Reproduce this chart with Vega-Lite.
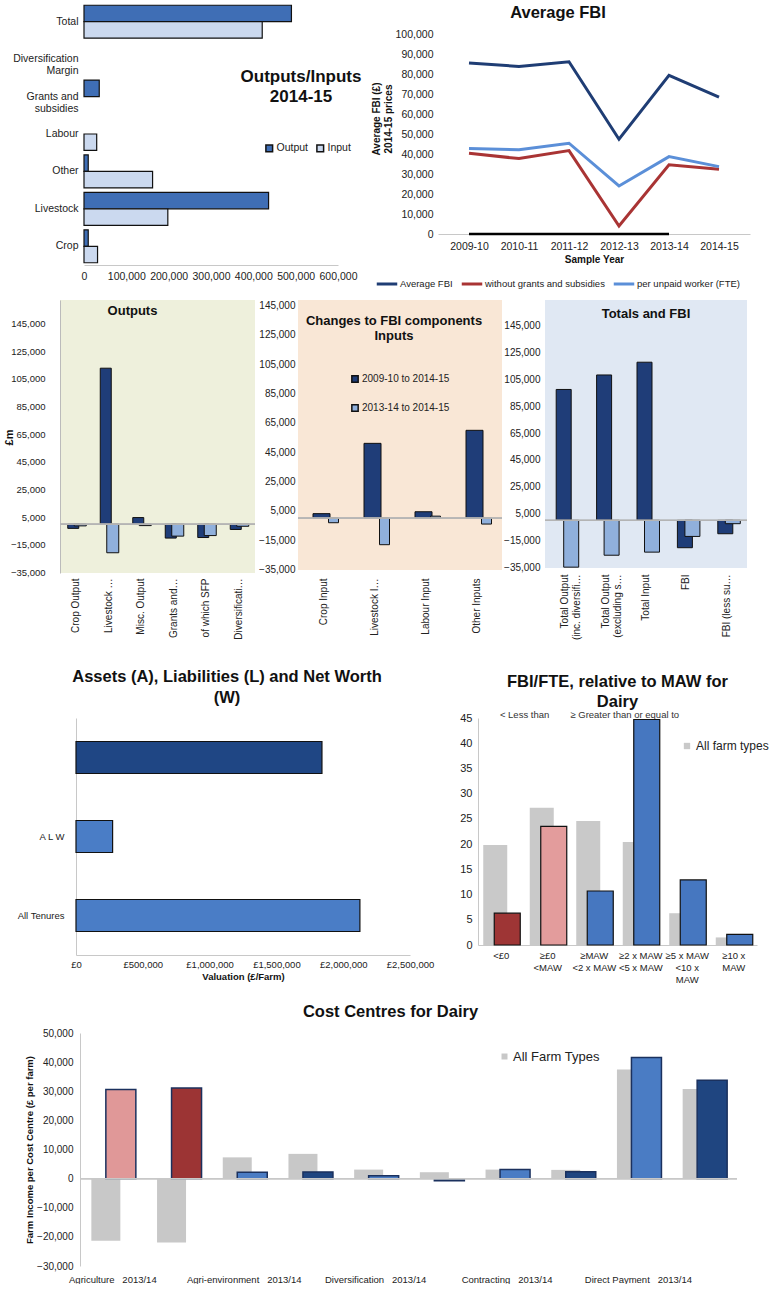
{
"$schema": "https://vega.github.io/schema/vega-lite/v6.json",
"padding": {"left": 0, "top": 3, "right": 0, "bottom": 0},
"background": "#ffffff",
"config": {
  "font": "Liberation Sans",
  "view": {"stroke": null},
  "axis": {"labelColor": "#222222", "titleColor": "#111111", "titleFontWeight": "bold", "grid": false, "ticks": false, "domainColor": "#c8c8c8", "labelFont": "Liberation Sans", "titleFont": "Liberation Sans", "labelOverlap": false, "labelFlush": false},
  "title": {"fontWeight": "bold", "color": "#111111", "anchor": "middle", "frame": "group", "font": "Liberation Sans"},
  "legend": {"labelColor": "#222222", "labelFont": "Liberation Sans"}
},
"datasets": {
  "outin": [
    {"item": "Total", "flow": "Output", "value": 490000},
    {"item": "Total", "flow": "Input", "value": 421000},
    {"item": "Grants and subsidies", "flow": "Output", "value": 36000},
    {"item": "Labour", "flow": "Input", "value": 30000},
    {"item": "Other", "flow": "Output", "value": 10000},
    {"item": "Other", "flow": "Input", "value": 162000},
    {"item": "Livestock", "flow": "Output", "value": 436000},
    {"item": "Livestock", "flow": "Input", "value": 198000},
    {"item": "Crop", "flow": "Output", "value": 10000},
    {"item": "Crop", "flow": "Input", "value": 32000}
  ],
  "fbi": [
    {"year": "2009-10", "series": "Average FBI", "value": 85500},
    {"year": "2010-11", "series": "Average FBI", "value": 83800},
    {"year": "2011-12", "series": "Average FBI", "value": 86100},
    {"year": "2012-13", "series": "Average FBI", "value": 47400},
    {"year": "2013-14", "series": "Average FBI", "value": 79300},
    {"year": "2014-15", "series": "Average FBI", "value": 68400},
    {"year": "2009-10", "series": "without grants and subsidies", "value": 40400},
    {"year": "2010-11", "series": "without grants and subsidies", "value": 37700},
    {"year": "2011-12", "series": "without grants and subsidies", "value": 41700},
    {"year": "2012-13", "series": "without grants and subsidies", "value": 4000},
    {"year": "2013-14", "series": "without grants and subsidies", "value": 34600},
    {"year": "2014-15", "series": "without grants and subsidies", "value": 32400},
    {"year": "2009-10", "series": "per unpaid worker (FTE)", "value": 42700},
    {"year": "2010-11", "series": "per unpaid worker (FTE)", "value": 42100},
    {"year": "2011-12", "series": "per unpaid worker (FTE)", "value": 45400},
    {"year": "2012-13", "series": "per unpaid worker (FTE)", "value": 24000},
    {"year": "2013-14", "series": "per unpaid worker (FTE)", "value": 38700},
    {"year": "2014-15", "series": "per unpaid worker (FTE)", "value": 33700}
  ],
  "fbi_zero": [
    {"year": "2009-10", "value": 0},
    {"year": "2010-11", "value": 0},
    {"year": "2011-12", "value": 0},
    {"year": "2012-13", "value": 0},
    {"year": "2013-14", "value": 0}
  ],
  "chg_out": [
    {"item": "Crop Output", "long": -3000, "short": -1200},
    {"item": "Livestock Output", "long": 112600, "short": -20600},
    {"item": "Misc. Output", "long": 4800, "short": -1000},
    {"item": "Grants and subsidies", "long": -10000, "short": -8600},
    {"item": "of which SFP", "long": -9600, "short": -8200},
    {"item": "Diversification Margin", "long": -3800, "short": -1500}
  ],
  "chg_in": [
    {"item": "Crop Input", "long": 3000, "short": -3200},
    {"item": "Livestock Input", "long": 51000, "short": -18200},
    {"item": "Labour Input", "long": 4300, "short": 1300},
    {"item": "Other Inputs", "long": 59900, "short": -4100}
  ],
  "chg_tot": [
    {"item": "Total Output (inc. diversification)", "long": 97500, "short": -34900},
    {"item": "Total Output (excluding subsidies)", "long": 108300, "short": -26000},
    {"item": "Total Input", "long": 117800, "short": -23700},
    {"item": "FBI", "long": -20400, "short": -12000},
    {"item": "FBI (less subsidies)", "long": -10000, "short": -2500}
  ],
  "assets": [
    {"group": " ", "value": 1841000},
    {"group": "A L W", "value": 274000},
    {"group": "All Tenures", "value": 2125000}
  ],
  "maw": [
    {"band": "<£0", "all_types": 19.8, "dairy": 6.3},
    {"band": "≥£0 <MAW", "all_types": 27.2, "dairy": 23.5},
    {"band": "≥MAW <2 x MAW", "all_types": 24.6, "dairy": 10.7},
    {"band": "≥2 x MAW <5 x MAW", "all_types": 20.4, "dairy": 44.7},
    {"band": "≥5 x MAW <10 x MAW", "all_types": 6.3, "dairy": 12.9},
    {"band": "≥10 x MAW", "all_types": 1.5, "dairy": 2.1}
  ],
  "cost": [
    {"centre": "Agriculture 2013/14", "all_types": -21300, "dairy": 30600},
    {"centre": "Agriculture 2014/15", "all_types": -21900, "dairy": 31100},
    {"centre": "Agri-environment 2013/14", "all_types": 7300, "dairy": 2200},
    {"centre": "Agri-environment 2014/15", "all_types": 8500, "dairy": 2300},
    {"centre": "Diversification 2013/14", "all_types": 3100, "dairy": 1000},
    {"centre": "Diversification 2014/15", "all_types": 2200, "dairy": -700},
    {"centre": "Contracting 2013/14", "all_types": 3100, "dairy": 3100},
    {"centre": "Contracting 2014/15", "all_types": 3000, "dairy": 2400},
    {"centre": "Direct Payment 2013/14", "all_types": 37500, "dairy": 41600},
    {"centre": "Direct Payment 2014/15", "all_types": 30800, "dairy": 33800}
  ]
},
"spacing": 0,
"resolve": {"scale": {"color": "independent", "x": "independent", "y": "independent"}, "legend": {"color": "independent"}},
"vconcat": [
 {
  "bounds": "flush",
  "spacing": 0,
  "resolve": {"scale": {"color": "independent", "x": "independent", "y": "independent"}, "legend": {"color": "independent"}},
  "hconcat": [
  {"width": 84, "height": 297, "data": {"values": []}, "mark": "point", "encoding": {}},
  {
    "width": 254, "height": 262,
    "data": {"name": "outin"},
    "title": {"text": ["Outputs/Inputs", "2014-15"], "fontSize": 17, "lineHeight": 20, "dx": 90, "dy": 107},
    "mark": {"type": "bar", "stroke": "#111111", "strokeWidth": 1.2},
    "encoding": {
      "y": {"field": "item", "type": "nominal", "scale": {"domain": ["Total", "Diversification Margin", "Grants and subsidies", "Labour", "Other", "Livestock", "Crop"], "paddingInner": 0.12, "paddingOuter": 0.06}, "axis": {"title": null, "domain": false, "labelPadding": 6, "labelFontSize": 10.5, "labelLineHeight": 12, "labelExpr": "datum.value == 'Diversification Margin' ? ['Diversification','Margin'] : datum.value == 'Grants and subsidies' ? ['Grants and','subsidies'] : datum.value"}},
      "yOffset": {"field": "flow", "type": "nominal", "scale": {"domain": ["Output", "Input"]}},
      "x": {"field": "value", "type": "quantitative", "scale": {"domain": [0, 600000], "nice": false}, "axis": {"title": null, "values": [0, 100000, 200000, 300000, 400000, 500000, 600000], "format": ",.0f", "labelFontSize": 10.5, "labelPadding": 6, "labelOverlap": false, "labelFlush": false}},
      "color": {"field": "flow", "type": "nominal", "scale": {"domain": ["Output", "Input"], "range": ["#3f6eb5", "#cbd9ef"]}, "legend": {"title": null, "orient": "none", "legendX": 180, "legendY": 140, "direction": "horizontal", "symbolType": "square", "symbolSize": 45, "symbolStrokeColor": "#111111", "symbolStrokeWidth": 1.5, "labelFontSize": 10.5, "columnPadding": 4, "labelOffset": 2}}
    }
  },
  {"width": 100, "height": 1, "data": {"values": []}, "mark": "point", "encoding": {}},
  {
    "width": 312, "height": 231,
    "title": {"text": "Average FBI", "fontSize": 16.5, "dx": -36, "dy": 22},
    "layer": [
      {
        "data": {"name": "fbi_zero"},
        "mark": {"type": "line", "color": "#000000", "strokeWidth": 2.5},
        "encoding": {
          "x": {"field": "year", "type": "ordinal", "scale": {"type": "point", "padding": 0.62}, "axis": {"title": "Sample Year", "titleFontSize": 10, "titlePadding": 3, "labelAngle": 0, "labelFontSize": 10.5, "labelPadding": 7}},
          "y": {"field": "value", "type": "quantitative", "scale": {"domain": [0, 115500], "nice": false}, "axis": {"title": ["Average FBI (£)", "2014-15 prices"], "titleFontSize": 10, "titlePadding": 2, "values": [0, 10000, 20000, 30000, 40000, 50000, 60000, 70000, 80000, 90000, 100000], "format": ",.0f", "domain": false, "labelFontSize": 10.5, "labelPadding": 5, "labelOverlap": false}}
        }
      },
      {
        "data": {"name": "fbi"},
        "mark": {"type": "line", "strokeWidth": 3},
        "encoding": {
          "x": {"field": "year", "type": "ordinal", "scale": {"type": "point", "padding": 0.62}, "axis": {"title": "Sample Year", "titleFontSize": 10, "titlePadding": 3, "labelAngle": 0, "labelFontSize": 10.5, "labelPadding": 7}},
          "y": {"field": "value", "type": "quantitative", "scale": {"domain": [0, 115500], "nice": false}, "axis": {"title": ["Average FBI (£)", "2014-15 prices"], "titleFontSize": 10, "titlePadding": 2, "values": [0, 10000, 20000, 30000, 40000, 50000, 60000, 70000, 80000, 90000, 100000], "format": ",.0f", "domain": false, "labelFontSize": 10.5, "labelPadding": 5, "labelOverlap": false}},
          "color": {"field": "series", "type": "nominal", "scale": {"domain": ["Average FBI", "without grants and subsidies", "per unpaid worker (FTE)"], "range": ["#1f3d74", "#a93434", "#5b8fd8"]}, "legend": {"title": null, "orient": "none", "legendX": -63, "legendY": 269, "direction": "horizontal", "symbolType": "stroke", "symbolSize": 420, "symbolStrokeWidth": 3, "labelFontSize": 9.5, "columnPadding": 2, "labelOffset": 1}}
        }
      }
    ]
  }
  ]
 },
 {
  "bounds": "flush",
  "spacing": 0,
  "resolve": {"scale": {"color": "independent", "x": "independent", "y": "independent"}, "legend": {"color": "independent"}},
  "hconcat": [
  {"width": 60, "height": 368, "data": {"values": []}, "mark": "point", "encoding": {}},
  {
    "width": 195, "height": 273,
    "view": {"fill": "#eef0dc", "stroke": null},
    "data": {"name": "chg_out"},
    "title": {"text": "Outputs", "fontSize": 13, "dx": -25, "dy": 22},
    "layer": [
      {
        "mark": {"type": "bar", "width": 11, "xOffset": -3, "color": "#1f3d78", "stroke": "#111111", "strokeWidth": 1},
        "encoding": {
          "x": {"field": "item", "type": "nominal", "scale": {"domain": ["Crop Output", "Livestock Output", "Misc. Output", "Grants and subsidies", "of which SFP", "Diversification Margin"], "paddingInner": 0, "paddingOuter": 0}, "axis": {"title": null, "labelAngle": -90, "labelFontSize": 10, "labelLimit": 62, "domain": false, "labelPadding": 5}},
          "y": {"field": "long", "type": "quantitative", "scale": {"domain": [-35208, 161816], "nice": false, "zero": false}, "axis": {"title": "£m", "titleX": -46, "titleY": 137, "titleAngle": -90, "titleFontSize": 11, "values": [-35000, -15000, 5000, 25000, 45000, 65000, 85000, 105000, 125000, 145000], "format": ",.0f", "labelFontSize": 9.5, "labelPadding": 15, "domainColor": "#bbbbbb", "labelOverlap": false}}
        }
      },
      {
        "mark": {"type": "bar", "width": 12, "xOffset": 4, "color": "#90b0dc", "stroke": "#111111", "strokeWidth": 1},
        "encoding": {
          "x": {"field": "item", "type": "nominal", "scale": {"domain": ["Crop Output", "Livestock Output", "Misc. Output", "Grants and subsidies", "of which SFP", "Diversification Margin"], "paddingInner": 0, "paddingOuter": 0}, "axis": {"title": null, "labelAngle": -90, "labelFontSize": 10, "labelLimit": 62, "domain": false, "labelPadding": 5}},
          "y": {"field": "short", "type": "quantitative", "scale": {"domain": [-35208, 161816], "nice": false, "zero": false}, "axis": {"title": "£m", "titleX": -46, "titleY": 137, "titleAngle": -90, "titleFontSize": 11, "values": [-35000, -15000, 5000, 25000, 45000, 65000, 85000, 105000, 125000, 145000], "format": ",.0f", "labelFontSize": 9.5, "labelPadding": 15, "domainColor": "#bbbbbb", "labelOverlap": false}}
        }
      },
      {"mark": {"type": "rule", "color": "#b5b5b5", "strokeWidth": 1}, "encoding": {"y": {"datum": 0, "type": "quantitative", "scale": {"domain": [-35208, 161816], "nice": false, "zero": false}, "axis": {"title": "£m", "titleX": -46, "titleY": 137, "titleAngle": -90, "titleFontSize": 11, "values": [-35000, -15000, 5000, 25000, 45000, 65000, 85000, 105000, 125000, 145000], "format": ",.0f", "labelFontSize": 9.5, "labelPadding": 15, "domainColor": "#bbbbbb", "labelOverlap": false}}}}
    ]
  },
  {"width": 43, "height": 1, "data": {"values": []}, "mark": "point", "encoding": {}},
  {
    "width": 204, "height": 270,
    "view": {"fill": "#f9e7d6", "stroke": null},
    "data": {"name": "chg_in"},
    "title": {"text": ["Changes to FBI components", "Inputs"], "fontSize": 13, "lineHeight": 15, "dx": -6, "dy": 47},
    "layer": [
      {
        "mark": {"type": "bar", "width": 17, "xOffset": -2, "stroke": "#111111", "strokeWidth": 1},
        "encoding": {
          "x": {"field": "item", "type": "nominal", "scale": {"domain": ["Crop Input", "Livestock Input", "Labour Input", "Other Inputs"], "paddingInner": 0, "paddingOuter": 0}, "axis": {"title": null, "labelAngle": -90, "labelFontSize": 10, "labelLimit": 62, "domain": false, "labelPadding": 8}},
          "y": {"field": "long", "type": "quantitative", "scale": {"domain": [-35478, 148893], "nice": false, "zero": false}, "axis": {"title": null, "values": [-35000, -15000, 5000, 25000, 45000, 65000, 85000, 105000, 125000, 145000], "format": ",.0f", "labelFontSize": 10, "labelPadding": 3, "domain": false, "labelOverlap": false}},
          "color": {"datum": "2009-10 to 2014-15", "scale": {"domain": ["2009-10 to 2014-15", "2013-14 to 2014-15"], "range": ["#1f3d78", "#90b0dc"]}, "legend": {"title": null, "orient": "none", "legendX": 52, "legendY": 74, "direction": "vertical", "symbolType": "square", "symbolSize": 40, "symbolStrokeColor": "#111111", "symbolStrokeWidth": 1.5, "labelFontSize": 10, "rowPadding": 15, "labelOffset": 2}}
        }
      },
      {
        "mark": {"type": "bar", "width": 10, "xOffset": 10, "stroke": "#111111", "strokeWidth": 1},
        "encoding": {
          "x": {"field": "item", "type": "nominal", "scale": {"domain": ["Crop Input", "Livestock Input", "Labour Input", "Other Inputs"], "paddingInner": 0, "paddingOuter": 0}, "axis": {"title": null, "labelAngle": -90, "labelFontSize": 10, "labelLimit": 62, "domain": false, "labelPadding": 8}},
          "y": {"field": "short", "type": "quantitative", "scale": {"domain": [-35478, 148893], "nice": false, "zero": false}, "axis": {"title": null, "values": [-35000, -15000, 5000, 25000, 45000, 65000, 85000, 105000, 125000, 145000], "format": ",.0f", "labelFontSize": 10, "labelPadding": 3, "domain": false, "labelOverlap": false}},
          "color": {"datum": "2013-14 to 2014-15", "scale": {"domain": ["2009-10 to 2014-15", "2013-14 to 2014-15"], "range": ["#1f3d78", "#90b0dc"]}, "legend": {"title": null, "orient": "none", "legendX": 52, "legendY": 74, "direction": "vertical", "symbolType": "square", "symbolSize": 40, "symbolStrokeColor": "#111111", "symbolStrokeWidth": 1.5, "labelFontSize": 10, "rowPadding": 15, "labelOffset": 2}}
        }
      },
      {"mark": {"type": "rule", "color": "#b5b5b5", "strokeWidth": 1}, "encoding": {"y": {"datum": 0, "type": "quantitative", "scale": {"domain": [-35478, 148893], "nice": false, "zero": false}, "axis": {"title": null, "values": [-35000, -15000, 5000, 25000, 45000, 65000, 85000, 105000, 125000, 145000], "format": ",.0f", "labelFontSize": 10, "labelPadding": 3, "domain": false, "labelOverlap": false}}}}
    ]
  },
  {"width": 43, "height": 1, "data": {"values": []}, "mark": "point", "encoding": {}},
  {
    "width": 202, "height": 268,
    "view": {"fill": "#e0e8f3", "stroke": null},
    "data": {"name": "chg_tot"},
    "title": {"text": "Totals and FBI", "fontSize": 13, "dx": 0, "dy": 25},
    "layer": [
      {
        "mark": {"type": "bar", "width": 15, "xOffset": -1.5, "color": "#1f3d78", "stroke": "#111111", "strokeWidth": 1},
        "encoding": {
          "x": {"field": "item", "type": "nominal", "scale": {"domain": ["Total Output (inc. diversification)", "Total Output (excluding subsidies)", "Total Input", "FBI", "FBI (less subsidies)"], "paddingInner": 0, "paddingOuter": 0}, "axis": {"title": null, "labelAngle": -90, "labelFontSize": 10, "labelLimit": 66, "labelLineHeight": 12, "domain": false, "labelPadding": 6, "labelExpr": "datum.value == 'Total Output (inc. diversification)' ? ['Total Output','(inc. diversification)'] : datum.value == 'Total Output (excluding subsidies)' ? ['Total Output','(excluding subsidies)'] : datum.value"}},
          "y": {"field": "long", "type": "quantitative", "scale": {"domain": [-35521, 164147], "nice": false, "zero": false}, "axis": {"title": null, "values": [-35000, -15000, 5000, 25000, 45000, 65000, 85000, 105000, 125000, 145000], "format": ",.0f", "labelFontSize": 10, "labelPadding": 5, "domain": false, "labelOverlap": false}}
        }
      },
      {
        "mark": {"type": "bar", "width": 15, "xOffset": 6, "color": "#90b0dc", "stroke": "#111111", "strokeWidth": 1},
        "encoding": {
          "x": {"field": "item", "type": "nominal", "scale": {"domain": ["Total Output (inc. diversification)", "Total Output (excluding subsidies)", "Total Input", "FBI", "FBI (less subsidies)"], "paddingInner": 0, "paddingOuter": 0}, "axis": {"title": null, "labelAngle": -90, "labelFontSize": 10, "labelLimit": 66, "labelLineHeight": 12, "domain": false, "labelPadding": 6, "labelExpr": "datum.value == 'Total Output (inc. diversification)' ? ['Total Output','(inc. diversification)'] : datum.value == 'Total Output (excluding subsidies)' ? ['Total Output','(excluding subsidies)'] : datum.value"}},
          "y": {"field": "short", "type": "quantitative", "scale": {"domain": [-35521, 164147], "nice": false, "zero": false}, "axis": {"title": null, "values": [-35000, -15000, 5000, 25000, 45000, 65000, 85000, 105000, 125000, 145000], "format": ",.0f", "labelFontSize": 10, "labelPadding": 5, "domain": false, "labelOverlap": false}}
        }
      },
      {"mark": {"type": "rule", "color": "#b5b5b5", "strokeWidth": 1}, "encoding": {"y": {"datum": 0, "type": "quantitative", "scale": {"domain": [-35521, 164147], "nice": false, "zero": false}, "axis": {"title": null, "values": [-35000, -15000, 5000, 25000, 45000, 65000, 85000, 105000, 125000, 145000], "format": ",.0f", "labelFontSize": 10, "labelPadding": 5, "domain": false, "labelOverlap": false}}}}
    ]
  }
  ]
 },
 {
  "bounds": "flush",
  "spacing": 0,
  "resolve": {"scale": {"color": "independent", "x": "independent", "y": "independent"}, "legend": {"color": "independent"}},
  "hconcat": [
  {"width": 76, "height": 285, "data": {"values": []}, "mark": "point", "encoding": {}},
  {
    "width": 334, "height": 237,
    "data": {"name": "assets"},
    "title": {"text": ["Assets (A), Liabilities (L) and Net Worth", "(W)"], "fontSize": 16.5, "lineHeight": 21, "dx": -16, "offset": 12},
    "mark": {"type": "bar", "height": 32, "stroke": "#111111", "strokeWidth": 1.2},
    "encoding": {
      "y": {"field": "group", "type": "nominal", "scale": {"domain": [" ", "A L W", "All Tenures"], "paddingInner": 0, "paddingOuter": 0}, "axis": {"title": null, "labelFontSize": 9.5, "labelPadding": 12}},
      "x": {"field": "value", "type": "quantitative", "scale": {"domain": [0, 2500000], "nice": false}, "axis": {"title": "Valuation (£/Farm)", "titleFontSize": 9.5, "titlePadding": 3, "values": [0, 500000, 1000000, 1500000, 2000000, 2500000], "labelExpr": "'£' + format(datum.value, ',')", "labelFontSize": 9.5, "labelPadding": 4, "labelOverlap": false, "labelFlush": false}},
      "color": {"field": "group", "type": "nominal", "scale": {"domain": [" ", "A L W", "All Tenures"], "range": ["#1f4684", "#4a7dc6", "#4a7dc6"]}, "legend": null}
    }
  },
  {"width": 68, "height": 1, "data": {"values": []}, "mark": "point", "encoding": {}},
  {
    "width": 279, "height": 227,
    "data": {"name": "maw"},
    "title": {"text": ["FBI/FTE, relative to MAW for", "Dairy"], "fontSize": 16.5, "lineHeight": 20, "offset": -1},
    "layer": [
      {
        "mark": {"type": "bar", "width": 24, "xOffset": -6},
        "encoding": {
          "x": {"field": "band", "type": "nominal", "scale": {"domain": ["<£0", "≥£0 <MAW", "≥MAW <2 x MAW", "≥2 x MAW <5 x MAW", "≥5 x MAW <10 x MAW", "≥10 x MAW"], "paddingInner": 0, "paddingOuter": 0}, "axis": {"orient": "top", "labels": false, "domain": false, "title": "< Less than\u00a0\u00a0\u00a0\u00a0\u00a0\u00a0\u00a0\u00a0≥ Greater than or equal to", "titleFontWeight": "normal", "titleFontSize": 9.5, "titleColor": "#333333", "titleX": 111, "titleY": -1, "titleAlign": "center", "titleBaseline": "alphabetic"}},
          "y": {"field": "all_types", "type": "quantitative", "scale": {"domain": [0, 45], "nice": false}, "axis": {"title": null, "values": [0, 5, 10, 15, 20, 25, 30, 35, 40, 45], "labelFontSize": 11, "labelPadding": 6, "labelOverlap": false}},
          "color": {"datum": "All farm types", "scale": {"domain": ["All farm types"], "range": ["#c9c9c9"]}, "legend": {"title": null, "orient": "none", "legendX": 203, "legendY": 22, "symbolType": "square", "symbolSize": 40, "labelFontSize": 12, "labelOffset": 3}}
        }
      },
      {
        "mark": {"type": "bar", "width": 26, "xOffset": 6, "stroke": "#111111", "strokeWidth": 1.2},
        "encoding": {
          "x": {"field": "band", "type": "nominal", "scale": {"domain": ["<£0", "≥£0 <MAW", "≥MAW <2 x MAW", "≥2 x MAW <5 x MAW", "≥5 x MAW <10 x MAW", "≥10 x MAW"], "paddingInner": 0, "paddingOuter": 0}, "axis": {"orient": "bottom", "title": null, "labelAngle": 0, "labelFontSize": 9.5, "labelLineHeight": 12, "labelPadding": 5, "labelExpr": "datum.value == '≥£0 <MAW' ? ['≥£0','<MAW'] : datum.value == '≥MAW <2 x MAW' ? ['≥MAW','<2 x MAW'] : datum.value == '≥2 x MAW <5 x MAW' ? ['≥2 x MAW','<5 x MAW'] : datum.value == '≥5 x MAW <10 x MAW' ? ['≥5 x MAW','<10 x','MAW'] : datum.value == '≥10 x MAW' ? ['≥10 x','MAW'] : datum.value"}},
          "y": {"field": "dairy", "type": "quantitative", "scale": {"domain": [0, 45], "nice": false}, "axis": {"title": null, "values": [0, 5, 10, 15, 20, 25, 30, 35, 40, 45], "labelFontSize": 11, "labelPadding": 6, "labelOverlap": false}},
          "color": {"field": "band", "type": "nominal", "scale": {"domain": ["<£0", "≥£0 <MAW", "≥MAW <2 x MAW", "≥2 x MAW <5 x MAW", "≥5 x MAW <10 x MAW", "≥10 x MAW"], "range": ["#9e3535", "#e39c9c", "#4677c0", "#4677c0", "#4677c0", "#4677c0"]}, "legend": null}
        }
      }
    ],
    "resolve": {"scale": {"color": "independent"}, "axis": {"x": "independent"}, "legend": {"color": "independent"}}
  }
  ]
 },
 {
  "bounds": "flush",
  "spacing": 0,
  "resolve": {"scale": {"color": "independent", "x": "independent", "y": "independent"}, "legend": {"color": "independent"}},
  "hconcat": [
  {"width": 80, "height": 1, "data": {"values": []}, "mark": "point", "encoding": {}},
  {
    "width": 657, "height": 233,
    "data": {"name": "cost"},
    "title": {"text": "Cost Centres for Dairy", "fontSize": 16.5, "dx": -18, "offset": 8},
    "layer": [
      {
        "mark": {"type": "bar", "width": 29, "xOffset": -7},
        "encoding": {
          "x": {"field": "centre", "type": "nominal", "scale": {"domain": ["Agriculture 2013/14", "Agriculture 2014/15", "Agri-environment 2013/14", "Agri-environment 2014/15", "Diversification 2013/14", "Diversification 2014/15", "Contracting 2013/14", "Contracting 2014/15", "Direct Payment 2013/14", "Direct Payment 2014/15"], "paddingInner": 0, "paddingOuter": 0}, "axis": {"title": null, "labelAngle": 0, "domain": false, "labelFontSize": 9.5, "labelPadding": 8, "labelExpr": "indexof(datum.value, '2014/15') >= 0 ? '' : replace(datum.value, ' 2013/14', '\u00a0\u00a0 2013/14')"}},
          "y": {"field": "all_types", "type": "quantitative", "scale": {"domain": [-30000, 50000], "nice": false}, "axis": {"title": "Farm Income per Cost Centre (£ per farm)", "titleFontSize": 9.5, "titlePadding": 2, "values": [-30000, -20000, -10000, 0, 10000, 20000, 30000, 40000, 50000], "format": ",.0f", "labelFontSize": 10, "labelPadding": 7, "labelOverlap": false}},
          "color": {"datum": "All Farm Types", "scale": {"domain": ["All Farm Types"], "range": ["#c8c8c8"]}, "legend": {"title": null, "orient": "none", "legendX": 418, "legendY": 17, "symbolType": "square", "symbolSize": 36, "labelFontSize": 13, "labelOffset": 2}}
        }
      },
      {
        "mark": {"type": "bar", "width": 30, "xOffset": 8, "stroke": "#1b315e", "strokeWidth": 1.5},
        "encoding": {
          "x": {"field": "centre", "type": "nominal", "scale": {"domain": ["Agriculture 2013/14", "Agriculture 2014/15", "Agri-environment 2013/14", "Agri-environment 2014/15", "Diversification 2013/14", "Diversification 2014/15", "Contracting 2013/14", "Contracting 2014/15", "Direct Payment 2013/14", "Direct Payment 2014/15"], "paddingInner": 0, "paddingOuter": 0}, "axis": {"title": null, "labelAngle": 0, "domain": false, "labelFontSize": 9.5, "labelPadding": 8, "labelExpr": "indexof(datum.value, '2014/15') >= 0 ? '' : replace(datum.value, ' 2013/14', '\u00a0\u00a0 2013/14')"}},
          "y": {"field": "dairy", "type": "quantitative", "scale": {"domain": [-30000, 50000], "nice": false}, "axis": {"title": "Farm Income per Cost Centre (£ per farm)", "titleFontSize": 9.5, "titlePadding": 2, "values": [-30000, -20000, -10000, 0, 10000, 20000, 30000, 40000, 50000], "format": ",.0f", "labelFontSize": 10, "labelPadding": 7, "labelOverlap": false}},
          "color": {"field": "centre", "type": "nominal", "scale": {"domain": ["Agriculture 2013/14", "Agriculture 2014/15", "Agri-environment 2013/14", "Agri-environment 2014/15", "Diversification 2013/14", "Diversification 2014/15", "Contracting 2013/14", "Contracting 2014/15", "Direct Payment 2013/14", "Direct Payment 2014/15"], "range": ["#e09898", "#9c3434", "#4a7cc4", "#1f4580", "#4a7cc4", "#1f4580", "#4a7cc4", "#1f4580", "#4a7cc4", "#1f4580"]}, "legend": null}
        }
      },
      {"mark": {"type": "rule", "color": "#c8c8c8", "strokeWidth": 1}, "encoding": {"y": {"datum": 0, "type": "quantitative", "scale": {"domain": [-30000, 50000], "nice": false}, "axis": {"title": "Farm Income per Cost Centre (£ per farm)", "titleFontSize": 9.5, "titlePadding": 2, "values": [-30000, -20000, -10000, 0, 10000, 20000, 30000, 40000, 50000], "format": ",.0f", "labelFontSize": 10, "labelPadding": 7, "labelOverlap": false}}}}
    ],
    "resolve": {"scale": {"color": "independent"}, "legend": {"color": "independent"}}
  }
  ]
 }
]
}
